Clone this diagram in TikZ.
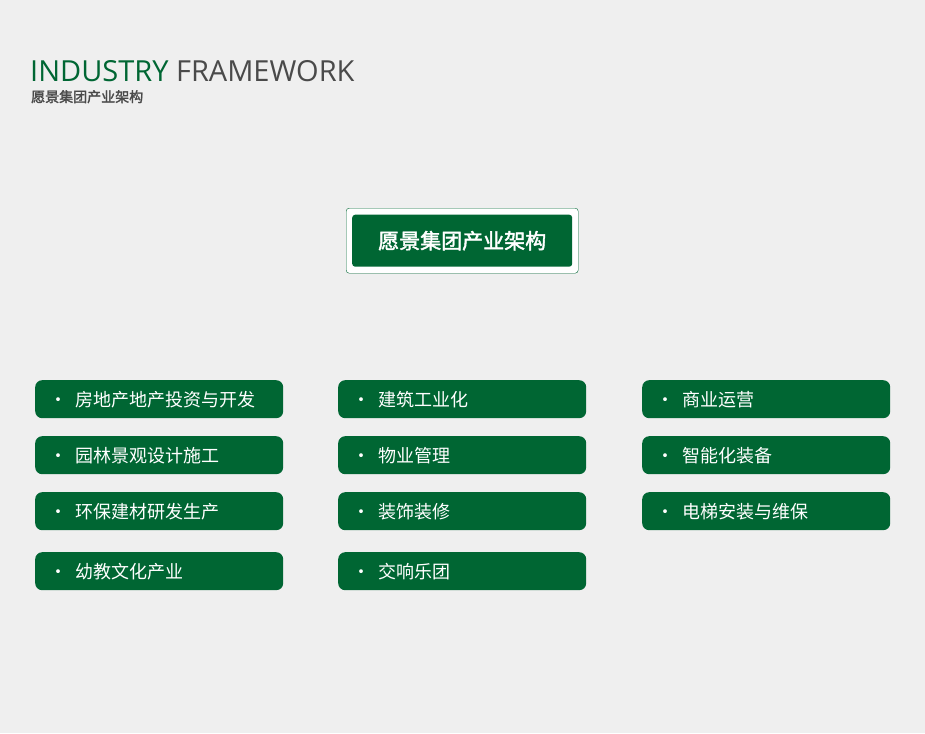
\documentclass[tikz,border=0pt]{standalone}
\usepackage{fontspec}
\setmainfont{Open Sans}
\newfontfamily\cjk{Noto Sans CJK SC}
\newfontfamily\cjkb{Noto Sans CJK SC}[FakeBold=2]
\definecolor{gr}{HTML}{006633}
\definecolor{bg}{HTML}{EFEFEF}
\definecolor{tx}{HTML}{4A4A4A}
\begin{document}
\begin{tikzpicture}[x=1pt,y=-1pt,
  item/.style={fill=gr,rounded corners=7pt,minimum width=248pt,minimum height=38pt,anchor=north west,text=white,font=\cjk\fontsize{18}{20}\selectfont,align=left,text width=220pt,inner xsep=14pt},
]
\fill[bg] (0,0) rectangle (925,733);
\useasboundingbox (0,0) rectangle (925,733);
\node[anchor=base west,inner sep=0,font=\fontsize{29}{32}\selectfont] (t) at (30,82) {\textcolor{gr}{INDUSTRY} \textcolor{tx}{FRAMEWORK}};
\node[anchor=base west,inner sep=0,font=\cjkb\fontsize{14}{16}\selectfont,text=tx] (st) at (31,102) {愿景集团产业架构};
\node[draw=gr,fill=white,rounded corners=3pt,minimum width=232pt,minimum height=65pt,anchor=north west] (co) at (346,208) {};
\node[fill=gr,rounded corners=3pt,minimum width=220pt,minimum height=52pt,text=white,font=\cjkb\fontsize{21}{24}\selectfont] (c) at (co.center) {愿景集团产业架构};
\foreach \x/\c in {35/a,338/b,642/c}{
  \foreach \y/\r in {380/1,436/2,492/3,552/4}{
    \coordinate (p\c\r) at (\x,\y);
  }
}
\node[item] (a1) at (pa1) {•\hspace{8pt}房地产地产投资与开发};
\node[item] (a2) at (pa2) {•\hspace{8pt}园林景观设计施工};
\node[item] (a3) at (pa3) {•\hspace{8pt}环保建材研发生产};
\node[item] (a4) at (pa4) {•\hspace{8pt}幼教文化产业};
\node[item] (b1) at (pb1) {•\hspace{8pt}建筑工业化};
\node[item] (b2) at (pb2) {•\hspace{8pt}物业管理};
\node[item] (b3) at (pb3) {•\hspace{8pt}装饰装修};
\node[item] (b4) at (pb4) {•\hspace{8pt}交响乐团};
\node[item] (c1) at (pc1) {•\hspace{8pt}商业运营};
\node[item] (c2) at (pc2) {•\hspace{8pt}智能化装备};
\node[item] (c3) at (pc3) {•\hspace{8pt}电梯安装与维保};
\end{tikzpicture}
\end{document}
